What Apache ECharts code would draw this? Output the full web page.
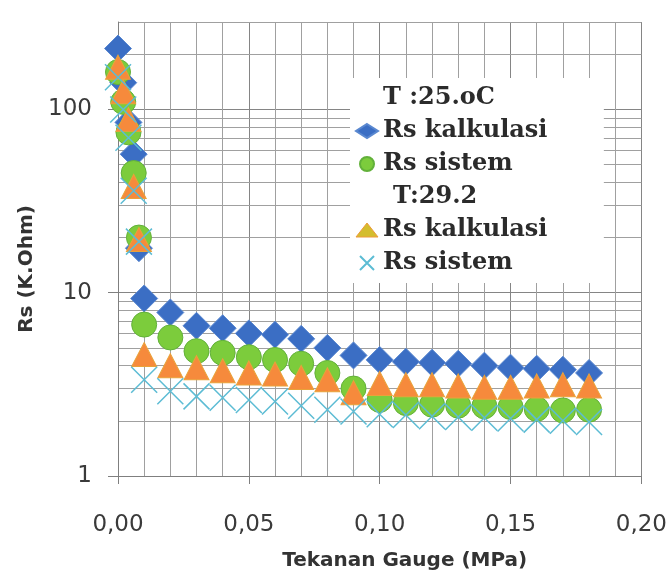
<!DOCTYPE html>
<html>
<head>
<meta charset="utf-8">
<script src="https://cdn.jsdelivr.net/npm/echarts@6/dist/echarts.min.js"></script>
<style>
html,body{margin:0;padding:0;background:#fff;}
#chart{width:670px;height:576px;}
</style>
</head>
<body>
<div id="chart"></div>
<script>
// Pressure (MPa)
const pressure = [0, 0.002, 0.004, 0.006, 0.008, 0.01, 0.02, 0.03, 0.04, 0.05, 0.06, 0.07, 0.08, 0.09, 0.10, 0.11, 0.12, 0.13, 0.14, 0.15, 0.16, 0.17, 0.18];
// T 25.0 C
const rsKalk25 = [215, 140, 85, 57, 17.5, 9.3, 7.8, 6.6, 6.4, 6.0, 5.9, 5.6, 5.0, 4.55, 4.3, 4.2, 4.15, 4.1, 4.0, 3.9, 3.85, 3.8, 3.65];
const rsSist25 = [160, 110, 75, 45, 20, 6.7, 5.7, 4.8, 4.7, 4.45, 4.3, 4.1, 3.65, 3.0, 2.6, 2.5, 2.45, 2.42, 2.4, 2.38, 2.32, 2.28, 2.3];
// T 29.2
const rsKalk29 = [170, 125, 88, 38, 19.5, 4.6, 4.0, 3.9, 3.75, 3.65, 3.6, 3.45, 3.35, 2.85, 3.2, 3.15, 3.15, 3.1, 3.05, 3.05, 3.1, 3.15, 3.1];
const rsSist29 = [150, 100, 70, 36, 19, 3.35, 2.9, 2.72, 2.67, 2.6, 2.55, 2.42, 2.3, 2.25, 2.17, 2.15, 2.12, 2.1, 2.08, 2.06, 2.03, 2.0, 1.97];
// minor horizontal grid values
const minorGridY = [2,3,4,5,6,7,8,9,20,30,40,50,60,70,80,90,200,300];
const xTickLabels = {0:'0,00', 0.05:'0,05', 0.1:'0,10', 0.15:'0,15', 0.2:'0,20'};

const pairs = arr => pressure.map((x, i) => [x, arr[i]]);
const crossPath = 'path://M0,0L10,10M10,0L0,10';

const chart = echarts.init(document.getElementById('chart'));
chart.setOption({
  animation: false,
  backgroundColor: '#fff',
  grid: {left: 118, right: 28, top: 22, bottom: 98, containLabel: false},
  xAxis: {
    type: 'value', min: 0, max: 0.2, interval: 0.05,
    name: 'Tekanan Gauge (MPa)', nameLocation: 'middle', nameGap: 75,
    nameTextStyle: {fontFamily: 'DejaVu Sans', fontWeight: 'bold', fontSize: 20, color: '#333', padding: [0, 0, 0, 50]},
    axisLine: {show: true, lineStyle: {color: '#7f7f7f', width: 1}},
    axisTick: {show: true, length: 8, lineStyle: {color: '#7f7f7f'}},
    minorTick: {show: false, splitNumber: 5},
    minorSplitLine: {show: true, lineStyle: {color: '#a0a0a0', width: 1}},
    splitLine: {show: true, lineStyle: {color: '#858585', width: 1}},
    axisLabel: {
      margin: 38, fontFamily: 'DejaVu Sans', fontSize: 23, color: '#3a3a3a',
      formatter: v => xTickLabels[Math.round(v*100)/100] !== undefined ? xTickLabels[Math.round(v*100)/100] : v.toFixed(2).replace('.', ',')
    }
  },
  yAxis: {
    type: 'log', logBase: 10, min: 1, max: 300,
    name: 'Rs (K.Ohm)', nameLocation: 'middle', nameGap: 80, nameRotate: 90,
    nameTextStyle: {fontFamily: 'DejaVu Sans', fontWeight: 'bold', fontSize: 20, color: '#333', padding: [0, 40, 0, 0]},
    axisLine: {show: true, lineStyle: {color: '#7f7f7f', width: 1}},
    axisTick: {show: true, length: 10, lineStyle: {color: '#7f7f7f'}},
    splitLine: {show: true, lineStyle: {color: '#858585', width: 1}},
    axisLabel: {
      margin: 26, fontFamily: 'DejaVu Sans', fontSize: 23, color: '#3a3a3a', showMaxLabel: false,
      formatter: v => { const l = Math.log10(v); return Math.abs(l - Math.round(l)) < 1e-6 ? String(Math.round(v)) : ''; }
    }
  },
  legend: {
    orient: 'vertical', left: 350, top: 78,
    backgroundColor: '#fff',
    padding: [8, 48, 8, 5],
    itemWidth: 22, itemHeight: 14, itemGap: 9,
    textStyle: {fontFamily: 'DejaVu Serif', fontWeight: 'bold', fontSize: 24, lineHeight: 24, color: '#2b2b2b'},
    data: [
      {name: 'T :25.oC', icon: 'none'},
      {name: 'Rs kalkulasi'},
      {name: 'Rs sistem'},
      {name: 'T:29.2', icon: 'none', textStyle: {padding: [0, 0, 0, 10]}},
      {name: 'Rs kalkulasi ', itemStyle: {color: '#d4bd2e', borderColor: '#ee9a3a', borderWidth: 1}},
      {name: 'Rs sistem '}
    ]
  },
  series: [
    {
      type: 'line', name: 'grid', data: [], silent: true, z: 0,
      markLine: {
        silent: true, symbol: 'none', z: 0, animation: false,
        label: {show: false},
        lineStyle: {color: '#a0a0a0', width: 1, type: 'solid'},
        emphasis: {disabled: true},
        data: minorGridY.map(v => ({yAxis: v}))
      }
    },
    {type: 'scatter', name: 'T :25.oC', data: []},
    {
      type: 'scatter', name: 'Rs kalkulasi', symbol: 'diamond', symbolSize: 27, z: 3,
      itemStyle: {color: '#3b6ec4', borderColor: '#5a88d0', borderWidth: 1, opacity: 1},
      data: pairs(rsKalk25)
    },
    {
      type: 'scatter', name: 'Rs sistem', symbol: 'circle', symbolSize: 25, z: 4,
      itemStyle: {color: '#7ccc3c', borderColor: '#62b13a', borderWidth: 1, opacity: 1},
      data: pairs(rsSist25)
    },
    {type: 'scatter', name: 'T:29.2', data: []},
    {
      type: 'scatter', name: 'Rs kalkulasi ', symbol: 'triangle', symbolSize: [25, 24], z: 5,
      itemStyle: {color: '#f68a3c', borderColor: '#e9a23a', borderWidth: 1, opacity: 1},
      data: pairs(rsKalk29)
    },
    {
      type: 'scatter', name: 'Rs sistem ', symbol: crossPath, symbolSize: 26, z: 6,
      itemStyle: {color: 'rgba(0,0,0,0)', borderColor: '#5cbcd4', borderWidth: 1.5, opacity: 1},
      data: pairs(rsSist29)
    }
  ]
});
</script>
</body>
</html>
